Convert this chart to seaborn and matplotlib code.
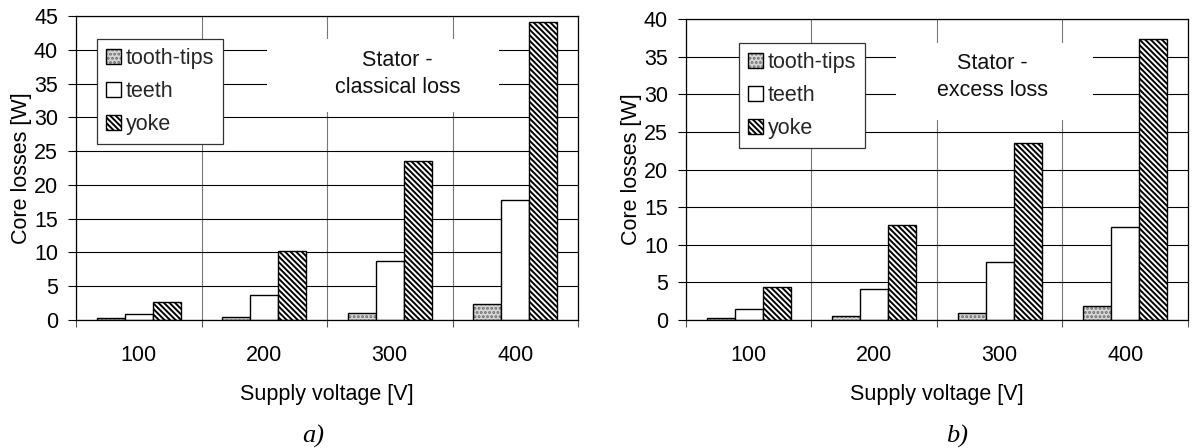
import matplotlib
matplotlib.use("Agg")
import matplotlib.pyplot as plt
from matplotlib.colors import to_rgba
from matplotlib.patches import Rectangle
import seaborn as sns
import pandas as pd

# Supply voltage categories and loss components
voltages = ["100", "200", "300", "400"]
components = ["tooth-tips", "teeth", "yoke"]

# Stator classical loss [W]
classical_tips = [0.3, 0.45, 1.0, 2.4]
classical_teeth = [0.85, 3.65, 8.8, 17.7]
classical_yoke = [2.6, 10.2, 23.5, 44.1]

# Stator excess loss [W]
excess_tips = [0.27, 0.57, 0.97, 1.86]
excess_teeth = [1.46, 4.12, 7.75, 12.4]
excess_yoke = [4.35, 12.6, 23.5, 37.3]

classical_ticks = [0, 5, 10, 15, 20, 25, 30, 35, 40, 45]
excess_ticks = [0, 5, 10, 15, 20, 25, 30, 35, 40]


def long_form(tips, teeth, yoke):
    rows = []
    for comp, vals in zip(components, [tips, teeth, yoke]):
        for v, val in zip(voltages, vals):
            rows.append({"voltage": v, "component": comp, "loss": val})
    return pd.DataFrame(rows)


sns.set_theme(style="white")
plt.rcParams["font.family"] = ["Liberation Sans", "DejaVu Sans"]
plt.rcParams["hatch.linewidth"] = 1.4
FS = 15.5

fig = plt.figure(figsize=(11.92, 4.48), dpi=100)
fig.patch.set_facecolor("white")

panels = [
    dict(rect=[0.0638, 0.2857, 0.4211, 0.6786],
         data=long_form(classical_tips, classical_teeth, classical_yoke),
         ticks=classical_ticks, title="Stator -\nclassical loss",
         leg_anchor=(0.042, 0.924),
         box=(0.380, 0.684, 0.463, 0.240), text_xy=(0.64, 0.81),
         caption="a)", cap_x=313 / 1192),
    dict(rect=[0.5755, 0.2857, 0.4211, 0.6719],
         data=long_form(excess_tips, excess_teeth, excess_yoke),
         ticks=excess_ticks, title="Stator -\nexcess loss",
         leg_anchor=(0.1056, 0.920),
         box=(0.418, 0.664, 0.393, 0.256), text_xy=(0.611, 0.807),
         caption="b)", cap_x=957 / 1192),
]

palette = {"tooth-tips": "#d6d6d6", "teeth": "white", "yoke": "white"}
hatches = {"tooth-tips": "....", "teeth": "", "yoke": "\\\\\\\\\\\\"}
hatch_colors = {"tooth-tips": "#6e6e6e", "teeth": "black", "yoke": "black"}

for p in panels:
    ax = fig.add_axes(p["rect"])
    sns.barplot(data=p["data"], x="voltage", y="loss", hue="component",
                order=voltages, hue_order=components, palette=palette,
                width=0.67, edgecolor="black", linewidth=1.0,
                legend=False, ax=ax)
    for cont, comp in zip(ax.containers, components):
        for bar in cont:
            bar.set_hatch(hatches[comp])
            bar._hatch_color = to_rgba(hatch_colors[comp])
            bar.set_zorder(2)

    ax.set_xlim(-0.5, len(voltages) - 0.5)
    ax.set_ylim(p["ticks"][0], p["ticks"][-1])
    ax.set_yticks(p["ticks"])
    ax.set_yticklabels([str(t) for t in p["ticks"]], fontsize=FS)
    ax.set_xticks(range(len(voltages)))
    ax.set_xticklabels(voltages, fontsize=FS)
    ax.set_xticks([i - 0.5 for i in range(len(voltages) + 1)], minor=True)

    ax.tick_params(axis="x", which="major", length=0, pad=18, colors="black")
    ax.tick_params(axis="x", which="minor", length=5, width=0.8,
                   direction="out", bottom=True, color="#555555")
    ax.tick_params(axis="y", which="major", length=6, width=0.8,
                   direction="out", left=True, pad=7, colors="black")

    ax.set_axisbelow(True)
    ax.yaxis.grid(True, color="black", linewidth=0.8)
    ax.xaxis.grid(True, which="minor", color="#777777", linewidth=0.8)
    ax.xaxis.grid(False, which="major")
    for s in ax.spines.values():
        s.set_visible(True)
        s.set_color("black")
        s.set_linewidth(0.9)

    ax.set_xlabel("Supply voltage [V]", fontsize=FS, color="black")
    ax.set_ylabel("Core losses [W]", fontsize=FS, color="black")
    ax.xaxis.set_label_coords(0.5, -0.212)
    ax.yaxis.set_label_coords(-0.088, 0.5)

    bx, by, bw, bh = p["box"]
    ax.add_patch(Rectangle((bx, by), bw, bh, transform=ax.transAxes,
                           facecolor="white", edgecolor="none", zorder=1))
    ax.text(p["text_xy"][0], p["text_xy"][1], p["title"], transform=ax.transAxes,
            ha="center", va="center", fontsize=FS, linespacing=1.4,
            color="#111111", zorder=3)

    leg = ax.legend(ax.containers, components, loc="upper left",
                    bbox_to_anchor=p["leg_anchor"], borderaxespad=0,
                    fontsize=FS, frameon=True, fancybox=False,
                    edgecolor="#333333", framealpha=1, facecolor="white",
                    handlelength=0.7, handleheight=0.7, handletextpad=0.2,
                    labelspacing=0.55, borderpad=0.42)
    leg.get_frame().set_linewidth(0.9)
    leg.set_zorder(5)

    fig.text(p["cap_x"], 1 - 436 / 448, p["caption"], ha="center",
             va="center", fontsize=19, fontstyle="italic",
             family=["Liberation Serif", "DejaVu Serif"], color="black")

fig.savefig("out.png", dpi=100, facecolor="white")
